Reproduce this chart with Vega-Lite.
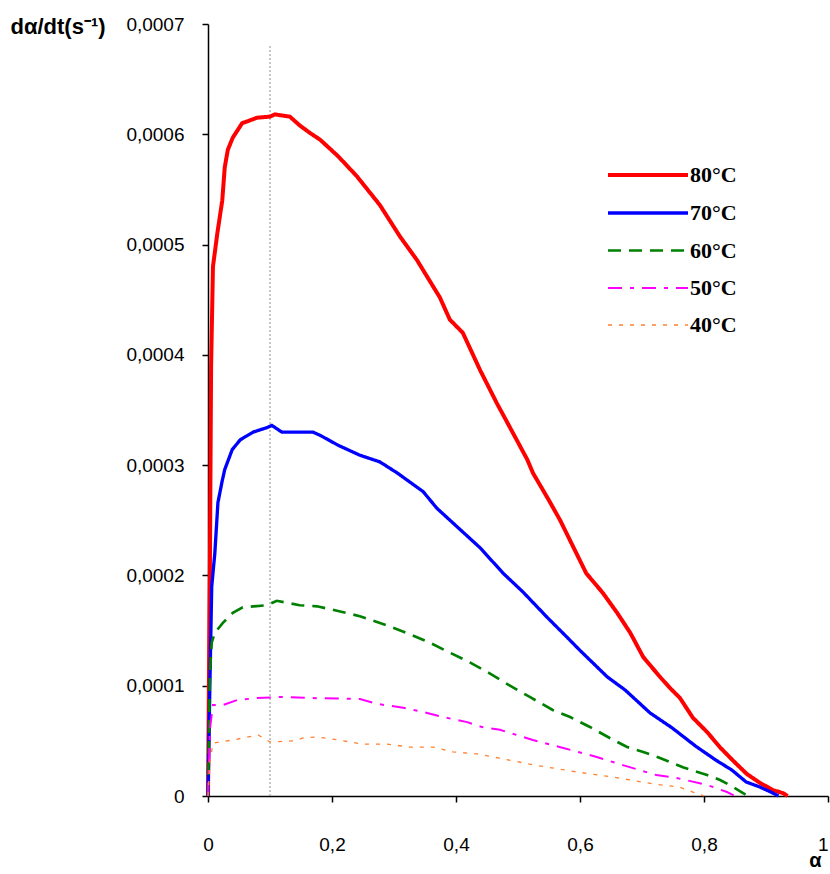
{
  "$schema": "https://vega.github.io/schema/vega-lite/v6.json",
  "width": 620,
  "height": 772,
  "autosize": {"type": "none"},
  "padding": {"left": 208, "top": 24, "right": 2, "bottom": 78},
  "background": "white",
  "config": {
    "view": {"stroke": null},
    "axis": {"grid": false, "domainColor": "black", "tickColor": "black", "domainWidth": 1.5, "tickWidth": 1.5, "tickSize": 6, "labelColor": "black", "labelFont": "Liberation Sans", "labelFontSize": 19, "titleColor": "black", "titleFont": "Liberation Sans"},
    "legend": {"orient": "none", "legendX": 418, "legendY": 129, "title": null, "symbolType": "M-2,0H2", "symbolSize": 1600, "rowPadding": 5, "labelFont": "Liberation Serif", "labelFontSize": 22, "labelFontWeight": "bold", "labelColor": "black", "labelOffset": 20}
  },
  "datasets": {
    "curves": [
      {"s":"80°C","a":0,"v":0},{"s":"80°C","a":0.003,"v":0.0002},{"s":"80°C","a":0.005,"v":0.00039},{"s":"80°C","a":0.008,"v":0.00048},{"s":"80°C","a":0.015,"v":0.00051},{"s":"80°C","a":0.023,"v":0.00054},{"s":"80°C","a":0.027,"v":0.00057},{"s":"80°C","a":0.032,"v":0.000586},{"s":"80°C","a":0.04,"v":0.000597},{"s":"80°C","a":0.055,"v":0.00061},{"s":"80°C","a":0.079,"v":0.000615},{"s":"80°C","a":0.1,"v":0.000616},{"s":"80°C","a":0.108,"v":0.000618},{"s":"80°C","a":0.132,"v":0.000616},{"s":"80°C","a":0.148,"v":0.000608},{"s":"80°C","a":0.165,"v":0.000601},{"s":"80°C","a":0.181,"v":0.000595},{"s":"80°C","a":0.21,"v":0.00058},{"s":"80°C","a":0.24,"v":0.000562},{"s":"80°C","a":0.277,"v":0.000536},{"s":"80°C","a":0.31,"v":0.000507},{"s":"80°C","a":0.337,"v":0.000486},{"s":"80°C","a":0.374,"v":0.000452},{"s":"80°C","a":0.39,"v":0.000432},{"s":"80°C","a":0.411,"v":0.00042},{"s":"80°C","a":0.439,"v":0.000386},{"s":"80°C","a":0.466,"v":0.000356},{"s":"80°C","a":0.492,"v":0.000329},{"s":"80°C","a":0.515,"v":0.000305},{"s":"80°C","a":0.524,"v":0.000293},{"s":"80°C","a":0.55,"v":0.000268},{"s":"80°C","a":0.568,"v":0.00025},{"s":"80°C","a":0.589,"v":0.000226},{"s":"80°C","a":0.61,"v":0.000202},{"s":"80°C","a":0.637,"v":0.000184},{"s":"80°C","a":0.66,"v":0.000166},{"s":"80°C","a":0.681,"v":0.000148},{"s":"80°C","a":0.702,"v":0.000126},{"s":"80°C","a":0.729,"v":0.000108},{"s":"80°C","a":0.745,"v":0.000098},{"s":"80°C","a":0.761,"v":0.000089},{"s":"80°C","a":0.782,"v":0.000071},{"s":"80°C","a":0.805,"v":0.000058},{"s":"80°C","a":0.826,"v":0.000044},{"s":"80°C","a":0.847,"v":0.000032},{"s":"80°C","a":0.869,"v":0.00002},{"s":"80°C","a":0.89,"v":0.000012},{"s":"80°C","a":0.911,"v":0.0000054},{"s":"80°C","a":0.927,"v":0.0000027},{"s":"80°C","a":0.935,"v":0},
      {"s":"70°C","a":0,"v":0},{"s":"70°C","a":0.003,"v":0.0001},{"s":"70°C","a":0.006,"v":0.00019},{"s":"70°C","a":0.011,"v":0.00022},{"s":"70°C","a":0.016,"v":0.000266},{"s":"70°C","a":0.023,"v":0.000286},{"s":"70°C","a":0.027,"v":0.000296},{"s":"70°C","a":0.039,"v":0.000314},{"s":"70°C","a":0.052,"v":0.000323},{"s":"70°C","a":0.073,"v":0.00033},{"s":"70°C","a":0.095,"v":0.000334},{"s":"70°C","a":0.103,"v":0.000336},{"s":"70°C","a":0.119,"v":0.00033},{"s":"70°C","a":0.169,"v":0.00033},{"s":"70°C","a":0.181,"v":0.000327},{"s":"70°C","a":0.21,"v":0.000318},{"s":"70°C","a":0.245,"v":0.000309},{"s":"70°C","a":0.277,"v":0.000303},{"s":"70°C","a":0.305,"v":0.000293},{"s":"70°C","a":0.347,"v":0.000276},{"s":"70°C","a":0.369,"v":0.000261},{"s":"70°C","a":0.402,"v":0.000244},{"s":"70°C","a":0.439,"v":0.000225},{"s":"70°C","a":0.476,"v":0.000202},{"s":"70°C","a":0.508,"v":0.000185},{"s":"70°C","a":0.547,"v":0.000162},{"s":"70°C","a":0.579,"v":0.000144},{"s":"70°C","a":0.6,"v":0.000132},{"s":"70°C","a":0.644,"v":0.000108},{"s":"70°C","a":0.673,"v":0.000096},{"s":"70°C","a":0.713,"v":0.0000753},{"s":"70°C","a":0.748,"v":0.000062},{"s":"70°C","a":0.787,"v":0.000045},{"s":"70°C","a":0.819,"v":0.0000326},{"s":"70°C","a":0.845,"v":0.0000235},{"s":"70°C","a":0.868,"v":0.0000127},{"s":"70°C","a":0.89,"v":0.0000082},{"s":"70°C","a":0.911,"v":0.0000027},{"s":"70°C","a":0.92,"v":0},
      {"s":"60°C","a":0,"v":0},{"s":"60°C","a":0.003,"v":0.00011},{"s":"60°C","a":0.006,"v":0.000139},{"s":"60°C","a":0.011,"v":0.000148},{"s":"60°C","a":0.024,"v":0.000157},{"s":"60°C","a":0.04,"v":0.000166},{"s":"60°C","a":0.056,"v":0.000171},{"s":"60°C","a":0.095,"v":0.000173},{"s":"60°C","a":0.111,"v":0.000177},{"s":"60°C","a":0.148,"v":0.000173},{"s":"60°C","a":0.176,"v":0.000172},{"s":"60°C","a":0.208,"v":0.000168},{"s":"60°C","a":0.245,"v":0.000163},{"s":"60°C","a":0.282,"v":0.000156},{"s":"60°C","a":0.32,"v":0.000148},{"s":"60°C","a":0.358,"v":0.000139},{"s":"60°C","a":0.39,"v":0.00013},{"s":"60°C","a":0.423,"v":0.000121},{"s":"60°C","a":0.455,"v":0.000111},{"s":"60°C","a":0.487,"v":0.0001},{"s":"60°C","a":0.519,"v":0.0000898},{"s":"60°C","a":0.556,"v":0.000078},{"s":"60°C","a":0.584,"v":0.0000716},{"s":"60°C","a":0.616,"v":0.0000626},{"s":"60°C","a":0.648,"v":0.0000526},{"s":"60°C","a":0.676,"v":0.0000444},{"s":"60°C","a":0.702,"v":0.00004},{"s":"60°C","a":0.729,"v":0.0000345},{"s":"60°C","a":0.766,"v":0.000026},{"s":"60°C","a":0.805,"v":0.000019},{"s":"60°C","a":0.826,"v":0.0000145},{"s":"60°C","a":0.847,"v":0.0000082},{"s":"60°C","a":0.863,"v":0.0000027},{"s":"60°C","a":0.87,"v":0},
      {"s":"50°C","a":0,"v":0},{"s":"50°C","a":0.003,"v":0.00006},{"s":"50°C","a":0.008,"v":0.0000825},{"s":"50°C","a":0.024,"v":0.0000825},{"s":"50°C","a":0.047,"v":0.000087},{"s":"50°C","a":0.079,"v":0.0000888},{"s":"50°C","a":0.116,"v":0.0000898},{"s":"50°C","a":0.169,"v":0.0000888},{"s":"50°C","a":0.245,"v":0.000088},{"s":"50°C","a":0.274,"v":0.0000834},{"s":"50°C","a":0.315,"v":0.00008},{"s":"50°C","a":0.347,"v":0.0000762},{"s":"50°C","a":0.379,"v":0.0000716},{"s":"50°C","a":0.418,"v":0.000067},{"s":"50°C","a":0.442,"v":0.0000625},{"s":"50°C","a":0.471,"v":0.00006},{"s":"50°C","a":0.524,"v":0.0000508},{"s":"50°C","a":0.573,"v":0.0000435},{"s":"50°C","a":0.627,"v":0.0000354},{"s":"50°C","a":0.669,"v":0.000028},{"s":"50°C","a":0.723,"v":0.000019},{"s":"50°C","a":0.756,"v":0.0000163},{"s":"50°C","a":0.805,"v":0.00001},{"s":"50°C","a":0.837,"v":0.0000036},{"s":"50°C","a":0.85,"v":0},
      {"s":"40°C","a":0,"v":0},{"s":"40°C","a":0.003,"v":0.00003},{"s":"40°C","a":0.008,"v":0.000048},{"s":"40°C","a":0.04,"v":0.0000508},{"s":"40°C","a":0.081,"v":0.0000553},{"s":"40°C","a":0.1,"v":0.000049},{"s":"40°C","a":0.14,"v":0.00005},{"s":"40°C","a":0.153,"v":0.0000526},{"s":"40°C","a":0.176,"v":0.0000535},{"s":"40°C","a":0.208,"v":0.000051},{"s":"40°C","a":0.25,"v":0.000047},{"s":"40°C","a":0.289,"v":0.000047},{"s":"40°C","a":0.326,"v":0.0000444},{"s":"40°C","a":0.363,"v":0.0000444},{"s":"40°C","a":0.395,"v":0.00004},{"s":"40°C","a":0.434,"v":0.0000382},{"s":"40°C","a":0.468,"v":0.0000345},{"s":"40°C","a":0.527,"v":0.000028},{"s":"40°C","a":0.595,"v":0.0000218},{"s":"40°C","a":0.653,"v":0.0000172},{"s":"40°C","a":0.719,"v":0.0000109},{"s":"40°C","a":0.76,"v":0.0000081},{"s":"40°C","a":0.782,"v":0.0000036},{"s":"40°C","a":0.8,"v":0}
    ],
    "marker": [{"a": 0.1, "v0": 0, "v1": 0.00068}]
  },
  "layer": [
    {
      "data": {"name": "marker"},
      "mark": {"type": "rule", "color": "#909090", "strokeWidth": 1, "strokeDash": [2, 2]},
      "encoding": {
        "x": {"field": "a", "type": "quantitative", "scale": {"domain": [0, 1], "nice": false}},
        "y": {"field": "v0", "type": "quantitative", "scale": {"domain": [0, 0.0007], "nice": false}},
        "y2": {"field": "v1"}
      }
    },
    {
      "data": {"name": "curves"},
      "mark": {"type": "line", "strokeCap": "butt", "strokeJoin": "miter"},
      "encoding": {
        "x": {
          "field": "a", "type": "quantitative",
          "scale": {"domain": [0, 1], "nice": false},
          "axis": {"values": [0, 0.2, 0.4, 0.6, 0.8, 1], "labelExpr": "replace(format(datum.value, '.1~f'), '.', ',')", "labelPadding": 33, "labelFlush": false, "labelOverlap": false, "labelAlign": {"condition": {"test": "datum.value == 1", "value": "right"}, "value": "center"}, "title": "α", "titleFontWeight": "bold", "titleFontSize": 20, "titleX": 607, "titleY": 64, "titleAlign": "center", "titleBaseline": "middle"}
        },
        "y": {
          "field": "v", "type": "quantitative",
          "scale": {"domain": [0, 0.0007], "nice": false},
          "axis": {"values": [0, 0.0001, 0.0002, 0.0003, 0.0004, 0.0005, 0.0006, 0.0007], "labelExpr": "datum.value == 0 ? '0' : replace(format(datum.value, '.4f'), '.', ',')", "labelPadding": 18, "labelFlush": false, "labelOverlap": false, "title": "dα/dt(s⁻¹)", "titleAngle": 0, "titleAlign": "left", "titleBaseline": "middle", "titleX": -198, "titleY": 2, "titleFontWeight": "bold", "titleFontSize": 22}
        },
        "color": {
          "field": "s", "type": "nominal",
          "scale": {"domain": ["80°C", "70°C", "60°C", "50°C", "40°C"], "range": ["#ff0000", "#0000ff", "#008000", "#ff00ff", "#ff8030"]}
        },
        "strokeDash": {
          "field": "s", "type": "nominal",
          "scale": {"domain": ["80°C", "70°C", "60°C", "50°C", "40°C"], "range": [[1, 0], [1, 0], [13, 8], [14, 8, 4, 8], [4, 7]]}
        },
        "strokeWidth": {
          "field": "s", "type": "nominal",
          "scale": {"domain": ["80°C", "70°C", "60°C", "50°C", "40°C"], "range": [4, 1.3, 1.5, 1.5, 1.5]}
        }
      }
    }
  ]
}
